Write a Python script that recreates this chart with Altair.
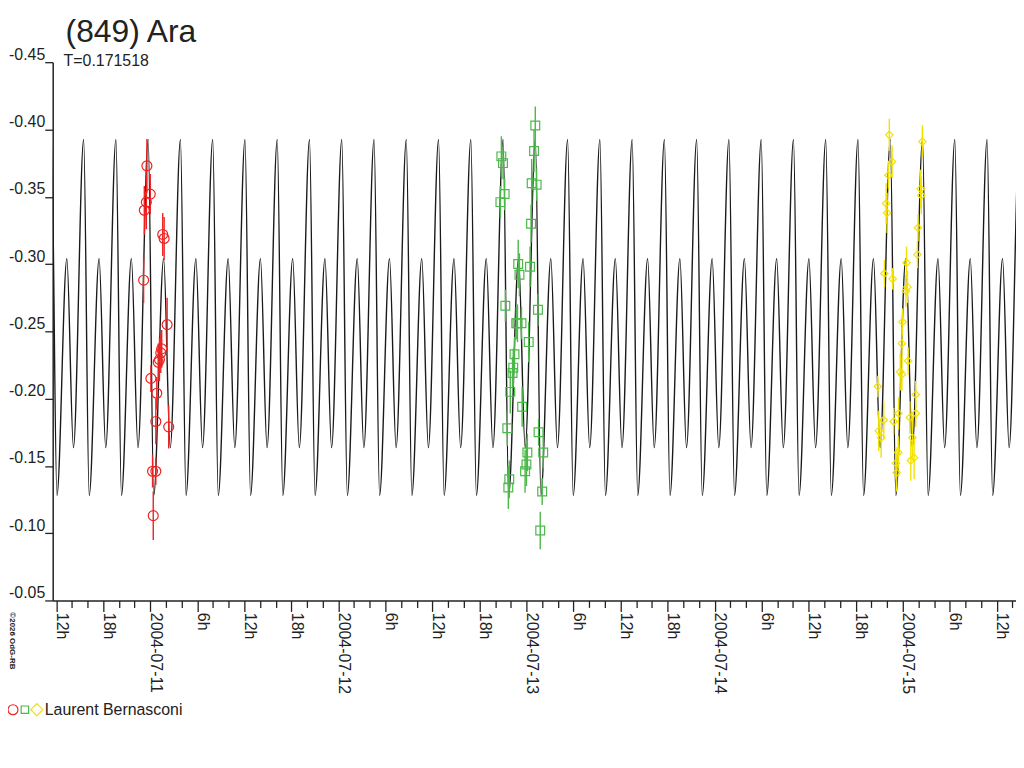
import altair as alt
import pandas as pd

# ---------------- texts ----------------
TITLE = "(849) Ara"
SUBTITLE = "T=0.171518"
OBSERVER = "Laurent Bernasconi"
COPYRIGHT = "\u00a92026 OdG-RB"

# ---------------- model light curve (one period profile) ----------------
PERIOD_DAYS = 0.171518
MODEL_EPOCH = "2004-07-10 23:44"          # a primary maximum of the model curve (UT)
PROFILE_PHASE = [0.0, 0.172, 0.479, 0.684]
PROFILE_MAG = [-0.3925, -0.128, -0.304, -0.1636]

# ---------------- axes ----------------
X_START = "2004-07-10 11:33"
X_END = "2004-07-15 14:27"
TICK_START = "2004-07-10 12:00"
TICK_END = "2004-07-15 14:00"
Y_TICKS = [-0.45, -0.40, -0.35, -0.30, -0.25, -0.20, -0.15, -0.10, -0.05]

# ---------------- observations (hours after 2004-07-11 00:00 UT) ----------------
REF_DAY = "2004-07-11 00:00"

RED_H = [-0.43, 0.00, -0.50, -0.76, 1.59, 1.77, -0.85, 2.15, 1.46, 1.34, 1.17, 1.01,
         0.08, 0.83, 0.71, 2.35, 0.29, 0.71, 0.38]
RED_MAG = [-0.373, -0.352, -0.346, -0.340, -0.322, -0.319, -0.288, -0.255, -0.237, -0.234,
           -0.229, -0.227, -0.215, -0.204, -0.183, -0.179, -0.146, -0.146, -0.113]
RED_ERR = [0.020, 0.015, 0.020, 0.018, 0.016, 0.016, 0.017, 0.020, 0.014, 0.015, 0.016,
           0.014, 0.010, 0.012, 0.017, 0.016, 0.012, 0.010, 0.018]

GREEN_H = [49.12, 48.96, 44.79, 45.00, 48.66, 49.29, 45.21, 44.67, 48.58, 48.45, 46.94,
           47.10, 45.30, 49.46, 46.69, 46.85, 47.36, 48.28, 46.47, 46.31, 46.22, 45.93,
           47.44, 45.55, 49.54, 50.13, 48.11, 47.99, 47.82, 45.80, 45.68, 50.00, 49.75]
GREEN_MAG = [-0.403, -0.384, -0.380, -0.375, -0.360, -0.359, -0.352, -0.346, -0.330, -0.298,
             -0.300, -0.292, -0.269, -0.266, -0.256, -0.256, -0.256, -0.242, -0.233, -0.223,
             -0.219, -0.205, -0.194, -0.178, -0.175, -0.160, -0.160, -0.151, -0.146, -0.140,
             -0.134, -0.131, -0.102]
GREEN_ERR = [0.014, 0.016, 0.015, 0.012, 0.018, 0.012, 0.012, 0.012, 0.014, 0.015, 0.018,
             0.016, 0.012, 0.012, 0.012, 0.014, 0.012, 0.015, 0.013, 0.014, 0.012, 0.016,
             0.015, 0.013, 0.010, 0.012, 0.014, 0.016, 0.016, 0.014, 0.016, 0.010, 0.014]

YELLOW_H = [94.29, 98.50, 94.64, 94.17, 98.29, 98.37, 93.88, 94.00, 97.95, 97.87, 96.48,
            93.66, 94.71, 96.60, 96.40, 95.97, 95.90, 96.69, 95.68, 95.90, 92.82, 97.66,
            97.66, 95.47, 93.58, 94.84, 96.91, 92.94, 93.25, 97.23, 95.43, 97.03, 97.45,
            95.14, 95.22]
YELLOW_MAG = [-0.396, -0.391, -0.376, -0.366, -0.356, -0.351, -0.345, -0.338, -0.327, -0.307,
              -0.301, -0.293, -0.289, -0.283, -0.280, -0.257, -0.241, -0.228, -0.220, -0.218,
              -0.209, -0.203, -0.189, -0.189, -0.184, -0.183, -0.186, -0.176, -0.171, -0.171,
              -0.160, -0.154, -0.156, -0.152, -0.145]
YELLOW_ERR = [0.012, 0.012, 0.012, 0.010, 0.014, 0.014, 0.015, 0.015, 0.010, 0.010, 0.012,
              0.010, 0.008, 0.012, 0.012, 0.010, 0.012, 0.010, 0.014, 0.012, 0.008, 0.010,
              0.010, 0.012, 0.014, 0.010, 0.012, 0.015, 0.015, 0.015, 0.012, 0.015, 0.016,
              0.012, 0.014]

GROUPS = ["night1", "night2", "night3"]
COLORS = ["#ee2222", "#4cb84a", "#f2e200"]
SHAPES = ["circle", "square", "diamond"]
SIZES = [100, 56, 150]


def ms(ts):
    return int(ts.value // 10**6)


def utc(s):
    return pd.Timestamp(s, tz="UTC")


# ---- model table: the read profile repeated each period ----
epoch = utc(MODEL_EPOCH)
period = pd.Timedelta(days=PERIOD_DAYS)
rows = []
for k in range(-4, 30):
    for ph, m in zip(PROFILE_PHASE, PROFILE_MAG):
        rows.append({"t": ms(epoch + period * (k + ph)), "mag": m})
model_df = pd.DataFrame(rows)

# ---- observation table ----
ref = utc(REF_DAY)
obs_rows = []
for g, hs, ms_, es in zip(GROUPS, [RED_H, GREEN_H, YELLOW_H],
                          [RED_MAG, GREEN_MAG, YELLOW_MAG],
                          [RED_ERR, GREEN_ERR, YELLOW_ERR]):
    for h, m, e in zip(hs, ms_, es):
        obs_rows.append({"grp": g, "t": ms(ref + pd.Timedelta(hours=h)),
                         "mag": m, "lo": m - e, "hi": m + e})
obs = pd.DataFrame(obs_rows)

tick_vals = [ms(t) for t in pd.date_range(utc(TICK_START), utc(TICK_END), freq="2h")]

FONT = "Liberation Sans"
XS = alt.Scale(type="utc", domain=[ms(utc(X_START)), ms(utc(X_END))])
YS = alt.Scale(domain=[-0.45, -0.05], reverse=True, nice=False, zero=False)

X_AX = alt.Axis(
    values=tick_vals,
    labelExpr=("utchours(datum.value) == 0 ? utcFormat(datum.value, '%Y-%m-%d') : "
               "(utchours(datum.value) % 6 == 0 ? utchours(datum.value) + 'h' : '')"),
    labelAngle=90, labelAlign="left", labelBaseline="alphabetic", labelPadding=1,
    labelFont=FONT, labelFontSize=16, labelColor="#222",
    labelOverlap=False, labelFlush=False, labelBound=False,
    tickSize={"condition": {"test": "utchours(datum.value) % 6 == 0", "value": 11}, "value": 7},
    tickColor="#222", tickWidth=1.3, domainColor="#222", domainWidth=1.5,
    grid=False, title=None,
)
Y_AX = alt.Axis(
    values=Y_TICKS,
    labelExpr="'-' + format(abs(datum.value), '.2f')",
    labelAlign="right", labelBaseline="bottom", labelPadding=0,
    labelFont=FONT, labelFontSize=16, labelColor="#222",
    labelOverlap=False, labelFlush=False,
    tickSize=8, tickColor="#222", tickWidth=1.3, domainColor="#222", domainWidth=1.5,
    grid=False, title=None,
)

COL = alt.Color("grp:N", scale=alt.Scale(domain=GROUPS, range=COLORS), legend=None)

curve = alt.Chart(model_df).mark_line(
    color="#1a1a1a", strokeWidth=1.4, clip=True, interpolate="monotone"
).encode(
    x=alt.X("t:T", scale=XS, axis=X_AX),
    y=alt.Y("mag:Q", scale=YS, axis=Y_AX),
)

errs = alt.Chart(obs).mark_rule(strokeWidth=1.4, clip=True).encode(
    x=alt.X("t:T", scale=XS, axis=X_AX),
    y=alt.Y("lo:Q", scale=YS, axis=Y_AX),
    y2="hi:Q",
    color=COL,
)

pts = alt.Chart(obs).mark_point(filled=False, strokeWidth=1.2, opacity=1, clip=True).encode(
    x=alt.X("t:T", scale=XS, axis=X_AX),
    y=alt.Y("mag:Q", scale=YS, axis=Y_AX),
    color=COL,
    shape=alt.Shape("grp:N", scale=alt.Scale(domain=GROUPS, range=SHAPES), legend=None),
    size=alt.Size("grp:N", scale=alt.Scale(domain=GROUPS, range=SIZES), legend=None),
)

title_txt = alt.Chart(pd.DataFrame({"s": [TITLE]})).mark_text(
    align="left", baseline="alphabetic", font=FONT, fontSize=32, color="#222"
).encode(text="s:N", x=alt.value(13), y=alt.value(-20))

sub_txt = alt.Chart(pd.DataFrame({"s": [SUBTITLE]})).mark_text(
    align="left", baseline="alphabetic", font=FONT, fontSize=16, color="#222"
).encode(text="s:N", x=alt.value(11), y=alt.value(4))

copy_txt = alt.Chart(pd.DataFrame({"s": [COPYRIGHT]})).mark_text(
    align="left", baseline="middle", angle=90, font=FONT, fontSize=8, fontWeight="bold",
    color="#222"
).encode(text="s:N", x=alt.value(-41), y=alt.value(554))

legend_marks = []
for i in range(3):
    legend_marks.append(
        alt.Chart(pd.DataFrame({"g": [GROUPS[i]]})).mark_point(
            shape=SHAPES[i], color=COLORS[i], size=SIZES[i], filled=False,
            strokeWidth=1.2, opacity=1
        ).encode(x=alt.value(-40 + 12 * i), y=alt.value(652))
    )

leg_txt = alt.Chart(pd.DataFrame({"s": [OBSERVER]})).mark_text(
    align="left", baseline="middle", font=FONT, fontSize=16, color="#222"
).encode(text="s:N", x=alt.value(-8), y=alt.value(652))

chart = alt.layer(
    curve, errs, pts, title_txt, sub_txt, copy_txt, *legend_marks, leg_txt
).properties(
    width=970, height=542,
    autosize=alt.AutoSizeParams(type="none"),
    padding={"left": 45, "top": 52, "right": 0, "bottom": 146},
).configure(background="white").configure_view(stroke="transparent", strokeWidth=0)

chart.save("out.html", embed_options={"renderer": "svg", "actions": False})
